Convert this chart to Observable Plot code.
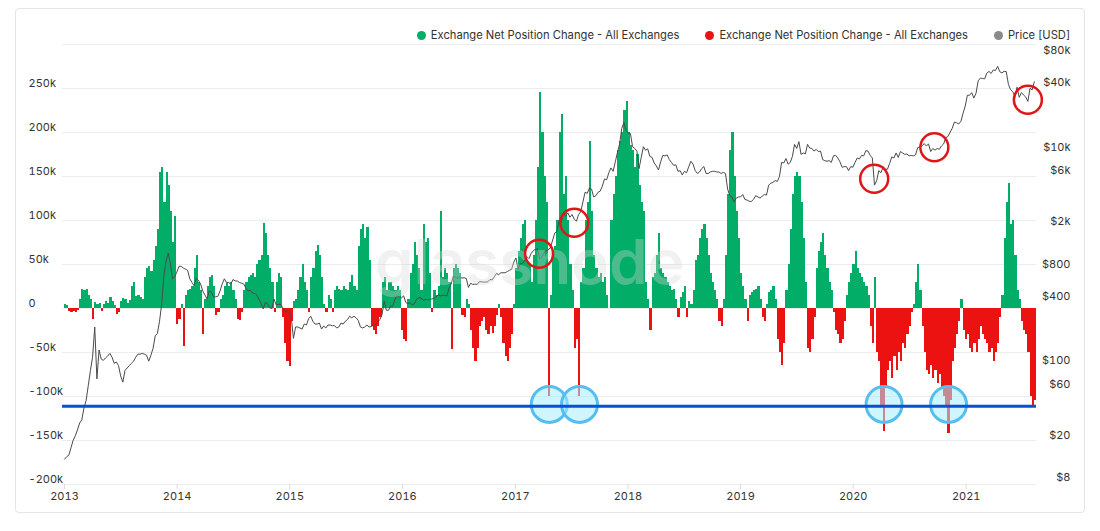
<!DOCTYPE html>
<html>
<head>
<meta charset="utf-8">
<script src="https://cdn.jsdelivr.net/npm/d3@7"></script>
<script src="https://cdn.jsdelivr.net/npm/@observablehq/plot@0.6"></script>
<style>
html,body{margin:0;padding:0;background:#fff;}
body{width:1100px;height:531px;position:relative;overflow:hidden;font-family:Inter,"Noto Sans",sans-serif;}
#card{position:absolute;left:15px;top:8px;width:1070px;height:505px;border:1px solid #e4e4e4;border-radius:4px;box-sizing:border-box;}
#chart{position:absolute;left:0;top:0;}
#legend{position:absolute;top:27px;right:30px;display:flex;gap:26px;font-size:11.2px;color:#333;line-height:16px;white-space:nowrap;}
.item{display:flex;align-items:center;}
.dot{width:9px;height:9px;border-radius:50%;margin-right:5px;}
</style>
</head>
<body>
<div id="card"></div>
<div id="chart"></div>
<div id="legend"></div>
<script>
// ---------- data ----------
const START = "2013-01-01";   // first weekly sample
const STEP_DAYS = 7;

// Exchange net position change (thousands of BTC), one value per week
const netChangeK = [
  5,3,-3,-4,-3,-4,-2,10,22,20,
  22,15,10,-12,7,5,6,-3,5,8,
  6,13,8,3,-7,-4,8,11,10,6,
  9,25,30,14,15,12,10,35,45,48,
  42,55,70,90,155,160,120,155,140,110,
  75,105,-18,-12,5,-43,15,20,22,25,
  45,60,30,20,-30,10,25,35,38,25,
  -8,-5,10,15,25,28,25,30,20,10,
  -12,-14,-5,20,30,35,38,40,35,50,
  55,60,97,85,60,45,30,-5,30,40,
  35,-10,-40,-60,-66,-15,8,10,20,35,
  50,30,20,-5,35,45,65,72,60,35,
  5,-5,15,10,-5,20,25,22,20,25,
  22,20,30,38,25,20,70,90,96,80,
  92,55,-20,-25,-30,-20,-10,30,35,20,
  30,30,25,20,25,20,-25,-35,-38,10,
  40,50,75,60,45,20,95,75,80,40,
  -5,20,15,25,110,35,45,40,30,-47,
  45,50,45,40,-8,-10,10,5,-25,-45,
  -60,-45,-20,-15,-10,-25,-30,-20,-28,-20,
  -8,5,-10,-40,-55,-60,-45,-30,5,45,
  65,80,95,100,55,50,30,60,100,160,
  245,200,150,120,-100,15,60,70,100,200,
  220,130,150,100,50,20,-45,-35,-100,30,
  45,100,120,190,110,60,45,35,40,30,
  35,15,0,100,130,150,180,190,200,225,
  235,200,185,180,160,175,140,120,110,30,
  10,-25,35,40,60,85,45,40,35,30,
  25,20,22,10,-10,12,18,25,-10,8,
  5,20,55,60,80,90,95,80,60,40,
  30,20,10,-15,-20,10,60,130,180,200,
  150,110,80,40,25,10,-15,15,18,20,
  22,25,10,-10,-15,5,18,20,25,10,
  -35,-50,-65,-40,20,50,90,130,150,155,
  150,120,80,30,-45,-50,-35,-10,45,65,
  75,85,60,45,30,20,-5,-25,-30,-40,
  -35,-15,15,30,40,50,65,45,40,35,
  30,25,15,-20,-40,35,-50,-60,-110,-140,
  -90,-70,-60,-80,-55,-70,-50,-60,-40,-45,
  -30,-20,-5,5,30,50,20,-20,-50,-70,
  -75,-65,-80,-70,-85,-75,-90,-100,-110,-142,
  -105,-60,-45,-30,-15,10,-25,-35,-30,-45,
  -50,-40,-50,-35,-20,-30,-35,-40,-50,-45,
  -60,-50,-40,-10,15,80,120,142,95,100,
  60,20,10,-15,-25,-30,-50,-100,-110,-105
];

// BTC price (USD), same weekly dates
const priceUSD = [
  13.3,14,14.5,17,20,22,25,29,31,40,
  47,65,90,120,230,75,140,115,112,118,
  123,130,120,105,108,100,80,70,90,95,
  100,105,110,120,128,128,130,128,125,110,
  125,145,190,200,260,380,700,950,1130,900,
  650,680,750,850,850,820,800,780,650,600,
  560,660,630,580,500,460,420,500,490,440,
  440,445,500,580,650,600,600,580,640,620,
  620,600,590,580,530,500,510,480,475,460,
  420,380,340,390,380,350,340,420,370,375,
  375,350,320,325,315,280,180,230,230,225,
  220,245,240,275,290,260,245,245,250,220,
  235,225,240,240,236,237,225,230,250,245,
  260,270,290,280,290,280,265,230,225,230,
  240,230,232,238,245,255,270,300,400,330,
  330,360,360,420,450,440,430,450,390,380,
  390,370,380,420,430,430,410,415,415,416,
  420,425,440,460,450,455,455,450,530,580,
  690,670,660,670,660,665,655,540,590,575,
  580,575,610,610,605,605,610,640,635,680,
  730,710,740,740,740,760,780,800,930,1020,
  800,900,900,970,1050,1000,1120,1190,1230,1240,
  1000,1040,1130,1200,1210,1280,1500,1750,1800,2300,
  2200,2700,2500,2700,2450,2600,2350,2250,2600,2750,
  3400,4200,4100,4600,4500,3800,3900,4200,4300,4800,
  5600,5500,6400,7100,6600,8100,9900,11900,16700,18900,
  15800,15000,14900,11200,10800,10200,7000,8900,11200,10400,
  10700,9100,8900,7900,7400,6800,8100,9300,9200,9400,
  8500,8000,7500,7600,6600,6700,6100,6600,6400,7300,
  8200,7700,6700,6300,6500,7000,7300,6300,6300,6500,
  6600,6600,6500,6500,6300,6450,6300,4500,3900,3800,
  3400,3700,3800,3800,4000,3600,3550,3450,3450,3600,
  3900,3800,3700,3850,4000,3950,4900,5100,5200,5400,
  5300,5900,8000,7900,8700,7700,8000,9100,11800,10800,
  12500,9500,9800,9600,11800,10900,10800,10200,10600,10100,
  10200,8500,8300,8200,8300,8000,9200,9300,8800,8100,
  7200,7300,7300,6700,7300,7200,8000,8800,8600,9300,
  9200,10300,10200,9300,8800,4900,5400,6700,6400,7300,
  6900,6900,7800,9000,8800,9800,8900,10100,9800,9500,
  9600,9200,9300,9200,9400,11000,11200,11400,12000,11400,
  11900,10100,10800,10400,10800,10600,11400,11900,13600,14000,
  15300,16700,19100,18800,18300,19400,23000,27000,34000,34000,
  36000,32000,35500,46400,49200,48900,48400,54800,56900,54400,
  58700,58000,63500,56500,55000,57000,56700,43000,38400,36700,
  33500,40500,32500,36000,34200,32800,29800,39500,38200,45500
];

// axis ticks and labels
const netGridTicks = [-200000,-150000,-100000,-50000,0,50000,100000,150000,200000,250000,300000];
const netLabelTicks = [-200000,-150000,-100000,-50000,0,50000,100000,150000,200000,250000];
const priceTicks = [80000,40000,10000,6000,2000,800,400,100,60,20,8];
const priceTickLabels = ["$80k","$40k","$10k","$6k","$2k","$800","$400","$100","$60","$20","$8"];
const yearTicks = ["2013","2014","2015","2016","2017","2018","2019","2020","2021"];

// annotations
const supportLevel = [-111000];
const outflowSpikeDates = ["2017-04-21","2017-07-28","2020-04-10","2020-11-05"];
const outflowSpikeValues = [-109000,-109000,-109000,-109000];
const priceDipDates = ["2017-03-19","2017-07-11","2020-03-09","2020-09-20","2021-07-20"];
const priceDipValues = [1115,2175,5615,11100,30840];

const legendItems = [
  {label:"Exchange Net Position Change - All Exchanges", color:"#02ad68"},
  {label:"Exchange Net Position Change - All Exchanges", color:"#ec1212"},
  {label:"Price [USD]", color:"#8a8a8a"}
];

// dual-axis alignment: price (log) anchored to left-axis values
const PRICE_ANCHOR_LOW = [8, -198000];
const PRICE_ANCHOR_HIGH = [80000, 287400];

// ---------- build ----------
const GREEN = "#02ad68", RED = "#ec1212";
const start = new Date(START + "T00:00:00Z");
const dayAt = i => d3.utcDay.offset(start, i * STEP_DAYS);
const lp = d3.scaleLog().domain([PRICE_ANCHOR_LOW[0], PRICE_ANCHOR_HIGH[0]]).range([PRICE_ANCHOR_LOW[1], PRICE_ANCHOR_HIGH[1]]);

const bars = netChangeK.map((v, i) => ({x1: dayAt(i), x2: dayAt(i + 1), v: v * 1000}));
const priceData = priceUSD.map((p, i) => ({date: dayAt(i), y: lp(p)}));
const spikes = outflowSpikeDates.map((d, i) => ({date: new Date(d + "T00:00:00Z"), y: outflowSpikeValues[i]}));
const dips = priceDipDates.map((d, i) => ({date: new Date(d + "T00:00:00Z"), y: lp(priceDipValues[i])}));
const priceTickPos = priceTicks.map(p => lp(p));
const priceLabelMap = new Map(priceTickPos.map((v, i) => [v, priceTickLabels[i]]));
const years = yearTicks.map(y => new Date(y + "-01-01T00:00:00Z"));

const chart = Plot.plot({
  width: 1100,
  height: 531,
  marginTop: 44,
  marginBottom: 47,
  marginLeft: 62,
  marginRight: 64,
  style: {fontFamily: "Inter, 'Noto Sans', sans-serif", fontSize: "11px", color: "#333", background: "transparent"},
  x: {type: "utc", domain: [new Date("2012-12-25T12:00:00Z"), new Date("2021-08-17T00:00:00Z")], axis: null},
  y: {domain: [-200000, 300000], axis: null, label: null},
  marks: [
    Plot.gridY(netGridTicks, {stroke: "#ececec", strokeOpacity: 1}),
    Plot.axisY(netLabelTicks, {anchor: "left", tickSize: 0, tickPadding: 0, dx: -34, dy: -5, textAnchor: "start",
      tickFormat: d => d === 0 ? "0" : (d / 1000) + "k", fill: "#333", label: null}),
    Plot.axisY(priceTickPos, {anchor: "right", tickSize: 0, tickPadding: 0, dx: 34, dy: -5, textAnchor: "end",
      tickFormat: d => priceLabelMap.get(d), fill: "#333", label: null}),
    Plot.axisX(years, {anchor: "bottom", tickSize: 5, tickPadding: 3, stroke: "#dcdcdc", fill: "#333",
      tickFormat: d3.utcFormat("%Y"), label: null}),
    Plot.rectY(bars.filter(d => d.v >= 0), {x1: "x1", x2: "x2", y: "v", fill: GREEN, shapeRendering: "crispEdges"}),
    Plot.rectY(bars.filter(d => d.v < 0), {x1: "x1", x2: "x2", y: "v", fill: RED, shapeRendering: "crispEdges"}),
    Plot.line(priceData, {x: "date", y: "y", stroke: "#4a4a4a", strokeWidth: 1}),
    Plot.text(["glassnode"], {text: d => d, frameAnchor: "middle", dx: -20, fontSize: 62, fontWeight: 600,
      fill: "#d6d6d6", fillOpacity: 0.35}),
    Plot.dot(spikes, {x: "date", y: "y", r: 18, fill: "#a8ecff", fillOpacity: 0.55, stroke: "#55bdf0", strokeWidth: 3}),
    Plot.ruleY(supportLevel, {stroke: "#0b4fd8", strokeWidth: 3}),
    Plot.dot(dips, {x: "date", y: "y", r: 14, fill: "none", stroke: "#e01616", strokeWidth: 2.5})
  ]
});
document.getElementById("chart").appendChild(chart);

const legend = d3.select("#legend");
legendItems.forEach(it => {
  const item = legend.append("div").attr("class", "item");
  item.append("div").attr("class", "dot").style("background", it.color);
  item.append("span").text(it.label);
});
</script>
</body>
</html>
